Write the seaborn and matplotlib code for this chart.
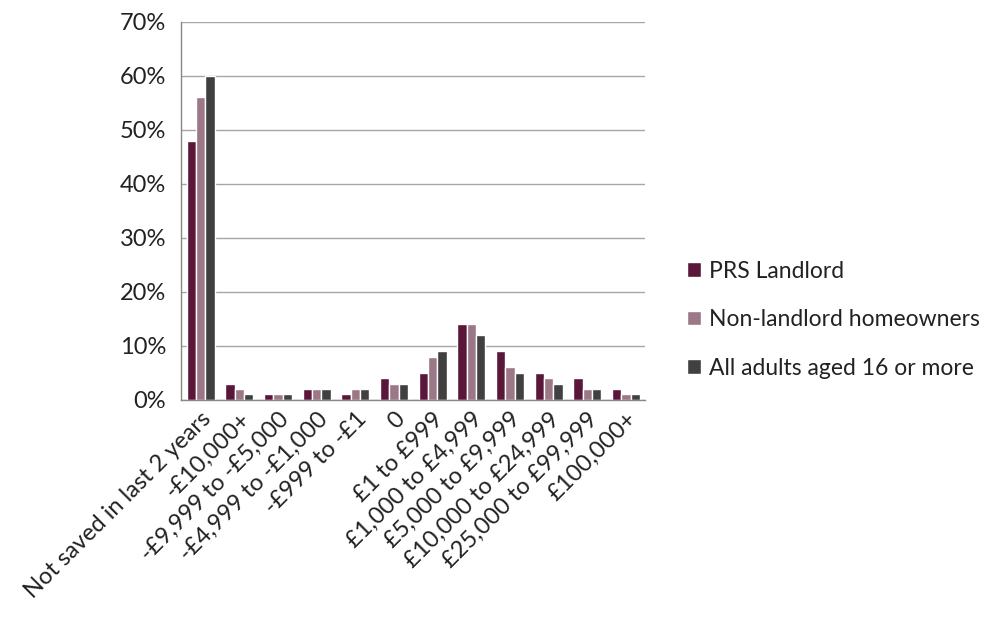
import matplotlib
matplotlib.use("Agg")
import matplotlib.pyplot as plt
import seaborn as sns
import pandas as pd
import numpy as np
from matplotlib.ticker import FixedLocator, PercentFormatter

categories = ["Not saved in last 2 years", "-£10,000+", "-£9,999 to -£5,000",
              "-£4,999 to -£1,000", "-£999 to -£1", "0", "£1 to £999",
              "£1,000 to £4,999", "£5,000 to £9,999", "£10,000 to £24,999",
              "£25,000 to £99,999", "£100,000+"]
prs_landlord = [48, 3, 1, 2, 1, 4, 5, 14, 9, 5, 4, 2]
non_landlord = [56, 2, 1, 2, 2, 3, 8, 14, 6, 4, 2, 1]
all_adults = [60, 1, 1, 2, 2, 3, 9, 12, 5, 3, 2, 1]
series = ["PRS Landlord", "Non-landlord homeowners", "All adults aged 16 or more"]
colors = ["#5a1739", "#9c7787", "#404040"]

df = pd.DataFrame({
    "category": categories * 3,
    "value": prs_landlord + non_landlord + all_adults,
    "series": [s for s in series for _ in categories],
})

sns.set_style("white")
plt.rcParams["font.family"] = ["Lato", "DejaVu Sans"]

fig = plt.figure(figsize=(10.02, 6.19), dpi=100)
ax = fig.add_axes([0.181, 0.354, 0.463, 0.611])
sns.barplot(data=df, x="category", y="value", hue="series", palette=colors,
            width=0.72, gap=0, saturation=1, ax=ax, order=categories, hue_order=series)

ax.set_ylim(0, 70)
ax.set_xlim(-0.5, len(categories) - 0.5)
ax.yaxis.set_major_locator(FixedLocator(range(0, 71, 10)))
ax.yaxis.set_major_formatter(PercentFormatter(decimals=0))
ax.yaxis.grid(True, color="#a6a6a6", linewidth=1)
ax.set_axisbelow(True)
ax.set_xlabel("")
ax.set_ylabel("")

ax.set_xticks(range(len(categories)))
ax.set_xticklabels(categories, rotation=45, ha="right", rotation_mode="anchor")
ax.xaxis.set_minor_locator(FixedLocator(np.arange(-0.5, len(categories), 1)))
ax.tick_params(axis="x", which="major", length=0, labelsize=17, pad=6)
ax.tick_params(axis="x", which="minor", length=5, color="#888888", direction="out")
ax.tick_params(axis="y", length=5, color="#888888", direction="out", labelsize=17,
               labelcolor="#222222", pad=6)
ax.tick_params(axis="x", labelcolor="#222222")

for s in ["top", "right"]:
    ax.spines[s].set_visible(False)
for s in ["left", "bottom"]:
    ax.spines[s].set_color("#888888")
    ax.spines[s].set_linewidth(1)

ax.legend(loc="center left", bbox_to_anchor=(1.045, 0.212), frameon=False,
          fontsize=16.5, handlelength=0.6, handleheight=0.6, handletextpad=0.35,
          labelspacing=1.2, labelcolor="#222222")

fig.savefig("out.png", dpi=100)
